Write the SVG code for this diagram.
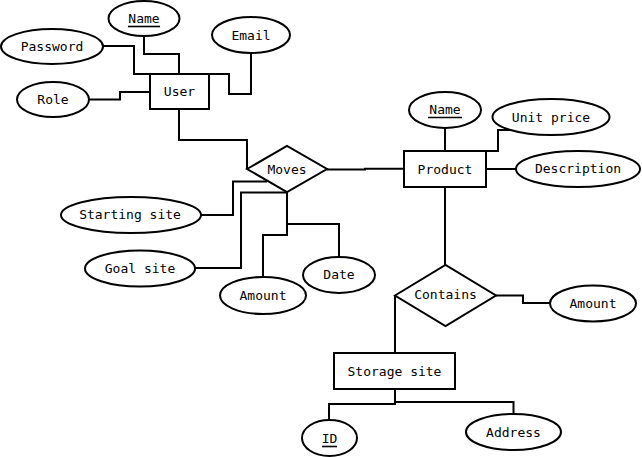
<svg xmlns="http://www.w3.org/2000/svg" width="642" height="457" viewBox="0 0 642 457">
<style>
.s{fill:#fff;stroke:#000;stroke-width:2}
.c{fill:none;stroke:#000;stroke-width:2}
.u{stroke:#000;stroke-width:1.6}
text{font-family:"DejaVu Sans Mono","Liberation Mono",monospace;font-size:13px;fill:#000;text-anchor:middle;dominant-baseline:central}
</style>
<rect width="642" height="457" fill="#fff"/>
<g id="connectors">
<path class="c" d="M103,46 H134 V74 H150"/>
<path class="c" d="M144,36 V54 H179 V74"/>
<path class="c" d="M251,53 V94 H229 V74 H209"/>
<path class="c" d="M89,99.5 H120 V92 H150"/>
<path class="c" d="M179,109 V140 H247 V169"/>
<path class="c" d="M201,215 H233 V181.5 H267"/>
<path class="c" d="M195,268 H241 V192.5 H287"/>
<path class="c" d="M263,277 V235 H287 V192"/>
<path class="c" d="M339,257 V224 H287"/>
<path class="c" d="M327,169.5 H365 V168.8 H404"/>
<path class="c" d="M445,128 V151"/>
<path class="c" d="M510,130 H498 V151 H486"/>
<path class="c" d="M486,169 H516"/>
<path class="c" d="M445,187 V265"/>
<path class="c" d="M496,295.5 H523 V303 H550"/>
<path class="c" d="M395,295.5 V353"/>
<path class="c" d="M395,389 V404 H329 V420"/>
<path class="c" d="M395,402 H513.5 V414"/>
</g>
<g id="user"><rect class="s" x="150" y="74" width="59" height="35"/><text x="179.5" y="91.5">User</text></g>
<g id="user-name"><ellipse class="s" cx="144" cy="18.5" rx="35.5" ry="17.5"/><text x="144" y="18">Name</text><line class="u" x1="128" y1="26.5" x2="160" y2="26.5"/></g>
<g id="password"><ellipse class="s" cx="52" cy="46.5" rx="51" ry="17.5"/><text x="52" y="46">Password</text></g>
<g id="email"><ellipse class="s" cx="251" cy="35" rx="39" ry="18"/><text x="251" y="35">Email</text></g>
<g id="role"><ellipse class="s" cx="53" cy="99.5" rx="36" ry="17.5"/><text x="53" y="99.5">Role</text></g>
<g id="moves"><polygon class="s" points="247,169 287,146 327,169 287,192"/><text x="287" y="169">Moves</text></g>
<g id="starting-site"><ellipse class="s" cx="131" cy="215" rx="70" ry="18"/><text x="130" y="214.5">Starting site</text></g>
<g id="goal-site"><ellipse class="s" cx="140" cy="268.5" rx="55" ry="18"/><text x="140" y="268">Goal site</text></g>
<g id="moves-amount"><ellipse class="s" cx="263" cy="295.5" rx="43" ry="18.5"/><text x="263" y="295">Amount</text></g>
<g id="date"><ellipse class="s" cx="339" cy="275" rx="36" ry="18"/><text x="339" y="274.5">Date</text></g>
<g id="product"><rect class="s" x="404" y="151" width="82" height="36"/><text x="445" y="169">Product</text></g>
<g id="product-name"><ellipse class="s" cx="445" cy="110" rx="36" ry="18"/><text x="445" y="109">Name</text><line class="u" x1="428" y1="117.5" x2="462" y2="117.5"/></g>
<g id="unit-price"><ellipse class="s" cx="551" cy="117" rx="58.5" ry="18"/><text x="551" y="117">Unit price</text></g>
<g id="description"><ellipse class="s" cx="578" cy="169" rx="62" ry="18"/><text x="578" y="168.5">Description</text></g>
<g id="contains"><polygon class="s" points="395,295.5 445.5,265 496,295.5 445.5,326"/><text x="445.5" y="294.5">Contains</text></g>
<g id="contains-amount"><ellipse class="s" cx="593" cy="303.5" rx="43" ry="18"/><text x="593" y="303">Amount</text></g>
<g id="storage-site"><rect class="s" x="334" y="353" width="121" height="36"/><text x="394.5" y="371">Storage site</text></g>
<g id="id"><ellipse class="s" cx="329.5" cy="438" rx="27.5" ry="18"/><text x="329.5" y="438">ID</text><line class="u" x1="322" y1="446.5" x2="337" y2="446.5"/></g>
<g id="address"><ellipse class="s" cx="513.5" cy="432" rx="47.5" ry="18"/><text x="513.5" y="432">Address</text></g>
</svg>
